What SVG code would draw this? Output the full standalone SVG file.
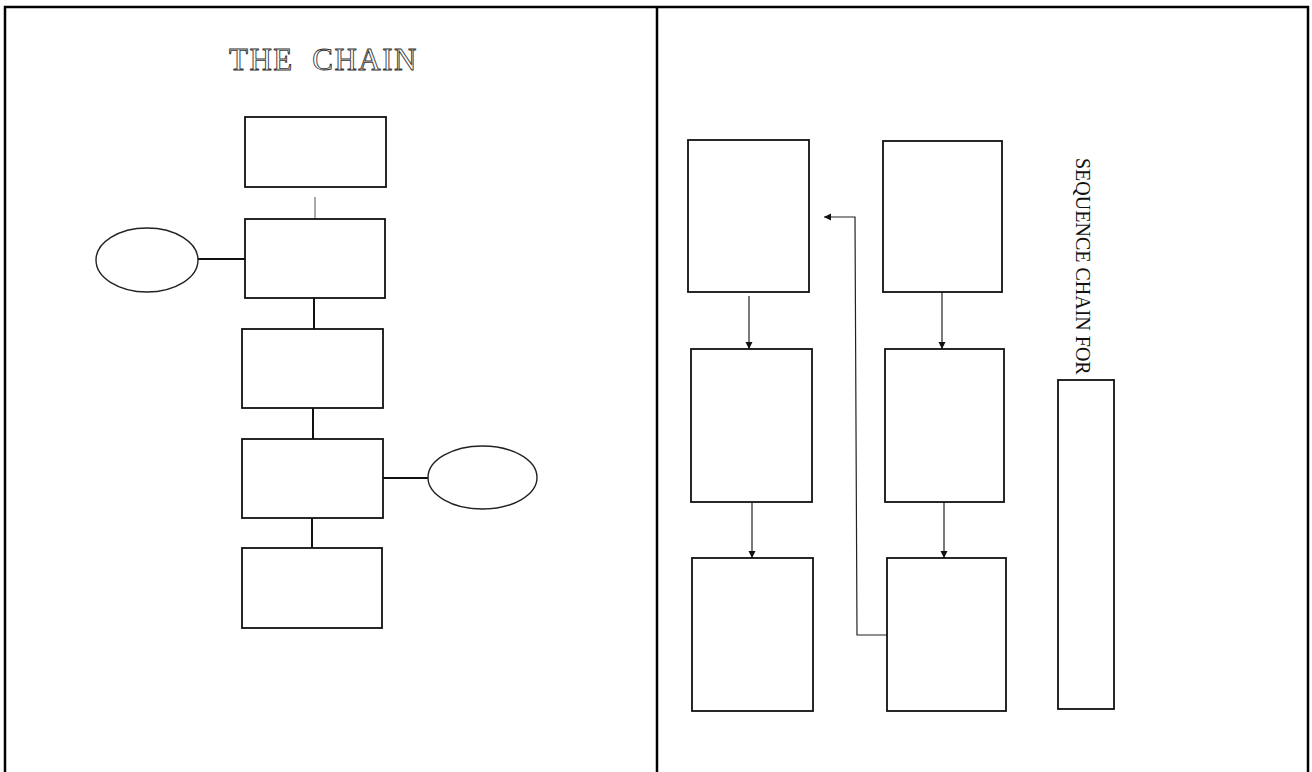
<svg xmlns="http://www.w3.org/2000/svg" width="1312" height="772" viewBox="0 0 1312 772">
<style>
.frame{fill:none;stroke:#000;stroke-width:2.5}
.box{fill:#fff;stroke:#111;stroke-width:1.8}
.ell{fill:#fff;stroke:#222;stroke-width:1.4}
.lk{fill:none;stroke:#111;stroke-width:2}
.thin{fill:none;stroke:#555;stroke-width:1}
.arr{fill:none;stroke:#222;stroke-width:1.2}
.title{font-family:"Liberation Serif","DejaVu Serif",serif;font-size:31px;letter-spacing:1.5px;fill:#fff;stroke:#333;stroke-width:0.9}
.vtext{font-family:"Liberation Serif","DejaVu Serif",serif;font-size:20px;fill:#111}
</style>
<defs>
<marker id="ah" markerWidth="8" markerHeight="8" refX="7" refY="4" orient="auto" markerUnits="userSpaceOnUse">
<path d="M0,0.5 L7,4 L0,7.5 Z" fill="#111"/>
</marker>
</defs>
<rect width="1312" height="772" fill="#fff"/>
<g id="frame">
<path class="frame" d="M5,780 V7 H1308 V780 M657,7 V780"/>
</g>
<text id="title" class="title" x="229" y="70" xml:space="preserve">THE  CHAIN</text>
<g id="connectors">
<line class="thin" x1="315" y1="197" x2="315" y2="219"/>
<line class="lk" x1="198" y1="259" x2="245" y2="259"/>
<line class="lk" x1="314" y1="298" x2="314" y2="329"/>
<line class="lk" x1="313" y1="408" x2="313" y2="439"/>
<line class="lk" x1="383" y1="478" x2="428" y2="478"/>
<line class="lk" x1="312" y1="518" x2="312" y2="548"/>
<line class="arr" x1="749" y1="296" x2="749" y2="349" marker-end="url(#ah)"/>
<line class="arr" x1="942" y1="292" x2="942" y2="349" marker-end="url(#ah)"/>
<line class="arr" x1="752" y1="503" x2="752" y2="558" marker-end="url(#ah)"/>
<line class="arr" x1="944" y1="502" x2="944" y2="558" marker-end="url(#ah)"/>
<polyline class="arr" points="887,635 857,635 855,217 824,217" marker-end="url(#ah)"/>
</g>
<g id="chain-box-1"><rect class="box" x="245" y="117" width="141" height="70"/></g>
<g id="chain-box-2"><rect class="box" x="245" y="219" width="140" height="79"/></g>
<g id="chain-ellipse-1"><ellipse class="ell" cx="147" cy="260" rx="51" ry="32"/></g>
<g id="chain-box-3"><rect class="box" x="242" y="329" width="141" height="79"/></g>
<g id="chain-box-4"><rect class="box" x="242" y="439" width="141" height="79"/></g>
<g id="chain-ellipse-2"><ellipse class="ell" cx="482.5" cy="477.5" rx="54.5" ry="31.5"/></g>
<g id="chain-box-5"><rect class="box" x="242" y="548" width="140" height="80"/></g>
<g id="seq-box-a"><rect class="box" x="688" y="140" width="121" height="152"/></g>
<g id="seq-box-b"><rect class="box" x="883" y="141" width="119" height="151"/></g>
<g id="seq-box-c"><rect class="box" x="691" y="349" width="121" height="153"/></g>
<g id="seq-box-d"><rect class="box" x="885" y="349" width="119" height="153"/></g>
<g id="seq-box-e"><rect class="box" x="692" y="558" width="121" height="153"/></g>
<g id="seq-box-f"><rect class="box" x="887" y="558" width="119" height="153"/></g>
<g id="seq-title-box">
<rect class="box" x="1058" y="380" width="56" height="329"/>
<text class="vtext" transform="translate(1076,158) rotate(90)" x="0" y="0">SEQUENCE CHAIN FOR</text>
</g>
</svg>
